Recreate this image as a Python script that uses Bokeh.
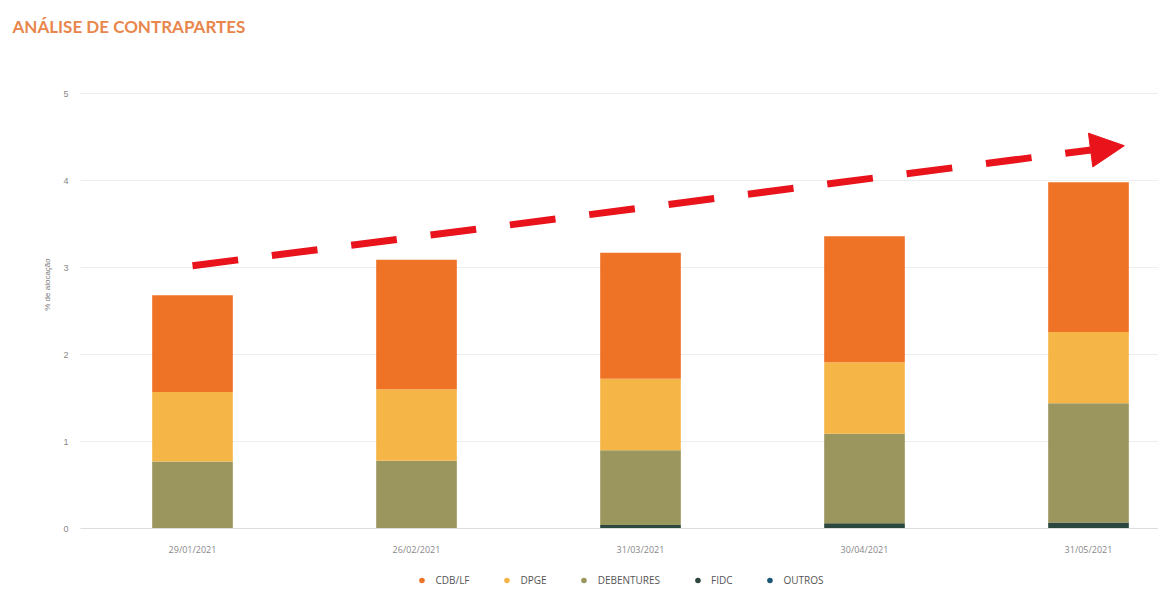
from bokeh.plotting import figure
from bokeh.layouts import column
from bokeh.models import (ColumnDataSource, Range1d, FixedTicker, Legend, LegendItem,
                          Arrow, NormalHead, Title)
from bokeh.embed import file_html
from bokeh.resources import INLINE

# ---- data ----
dates = ["29/01/2021", "26/02/2021", "31/03/2021", "30/04/2021", "31/05/2021"]
outros = [0.0, 0.0, 0.0, 0.0, 0.0]
fidc = [0.0, 0.0, 0.04, 0.06, 0.07]
debentures = [0.77, 0.78, 0.86, 1.03, 1.37]
dpge = [0.80, 0.82, 0.82, 0.82, 0.82]
cdb_lf = [1.11, 1.49, 1.45, 1.45, 1.72]
series_names = ["OUTROS", "FIDC", "DEBENTURES", "DPGE", "CDB/LF"]
legend_order = ["CDB/LF", "DPGE", "DEBENTURES", "FIDC", "OUTROS"]
colors = {"CDB/LF": "#EE7326", "DPGE": "#F6B547", "DEBENTURES": "#9A965E",
          "FIDC": "#2C473D", "OUTROS": "#1B5878"}
# trend arrow (annotation): start / end in data units
trend_x = [0.5, 4.66]
trend_y = [3.02, 4.40]

xpos = [i + 0.5 for i in range(len(dates))]
src = ColumnDataSource(dict(x=xpos, OUTROS=outros, FIDC=fidc, DEBENTURES=debentures,
                            DPGE=dpge, **{"CDB/LF": cdb_lf}))

W, H = 1158, 562
left, right, top, bottom = 80, 0, 40, 34
frame_w = W - left - right
frame_h = H - top - bottom
p = figure(width=W, height=H, output_backend="svg", toolbar_location=None,
           x_range=Range1d(0, frame_w / 224.0), y_range=Range1d(0, frame_h / 87.0),
           min_border_left=left, min_border_right=right, min_border_top=top,
           min_border_bottom=bottom)
p.outline_line_color = None
p.background_fill_color = "white"

p.add_layout(Title(text="ANÁLISE DE CONTRAPARTES", text_color="#E8864C",
                   text_font="Lato", text_font_size="17px",
                   text_font_style="bold", align="left", offset=-68, standoff=8), "above")

p.vbar_stack(series_names, x="x", width=0.36, source=src,
             color=[colors[n] for n in series_names], line_color=None)

# trend arrow
p.add_layout(Arrow(x_start=trend_x[0], y_start=trend_y[0], x_end=trend_x[1], y_end=trend_y[1],
                   line_color="#E8131B", line_width=7, line_dash="46 34",
                   end=NormalHead(size=34, fill_color="#E8131B", line_color="#E8131B", line_width=1)))

# axes
p.yaxis.ticker = FixedTicker(ticks=[0, 1, 2, 3, 4, 5])
p.yaxis.axis_line_color = None
p.yaxis.major_tick_line_color = None
p.yaxis.minor_tick_line_color = None
p.yaxis.major_tick_out = 0
p.yaxis.major_label_text_font_size = "9px"
p.yaxis.major_label_text_color = "#888888"
p.yaxis.major_label_standoff = 12
p.yaxis.axis_label = "% de alocação"
p.yaxis.axis_label_text_font_size = "8px"
p.yaxis.axis_label_text_color = "#777777"
p.yaxis.axis_label_text_font_style = "normal"
p.yaxis.axis_label_standoff = 8

p.xaxis.ticker = FixedTicker(ticks=xpos)
p.xaxis.major_label_overrides = {x: d for x, d in zip(xpos, dates)}
p.xaxis.axis_line_color = "#DDDDDD"
p.xaxis.major_tick_line_color = None
p.xaxis.minor_tick_line_color = None
p.xaxis.major_tick_out = 0
p.xaxis.major_label_text_font_size = "9px"
p.xaxis.major_label_text_color = "#888888"
p.xaxis.major_label_standoff = 14
p.xaxis.major_label_text_font = "Open Sans"

p.xgrid.grid_line_color = None
p.ygrid.grid_line_color = "#EEEEEE"

# separate legend strip with circle markers
lg = figure(width=W, height=36, output_backend="svg", toolbar_location=None,
            min_border_left=0, min_border_right=0, min_border_top=0, min_border_bottom=0,
            x_range=Range1d(0, 1), y_range=Range1d(0, 1))
lg.axis.visible = False
lg.grid.visible = False
lg.outline_line_color = None
items = []
for n in legend_order:
    r = lg.scatter(x=[float("nan")], y=[float("nan")], marker="circle", size=12,
                   fill_color=colors[n], line_color=None)
    items.append(LegendItem(label=n, renderers=[r]))
leg = Legend(items=items, orientation="horizontal", location="center",
             label_text_font_size="10px", label_text_color="#555555",
             label_text_font="Open Sans", background_fill_alpha=0,
             border_line_color=None, spacing=30, glyph_width=14, label_standoff=7,
             margin=0, padding=2)
lg.add_layout(leg, "center")

layout = column(p, lg, spacing=0)
open("out.html", "w").write(file_html(layout, INLINE))
